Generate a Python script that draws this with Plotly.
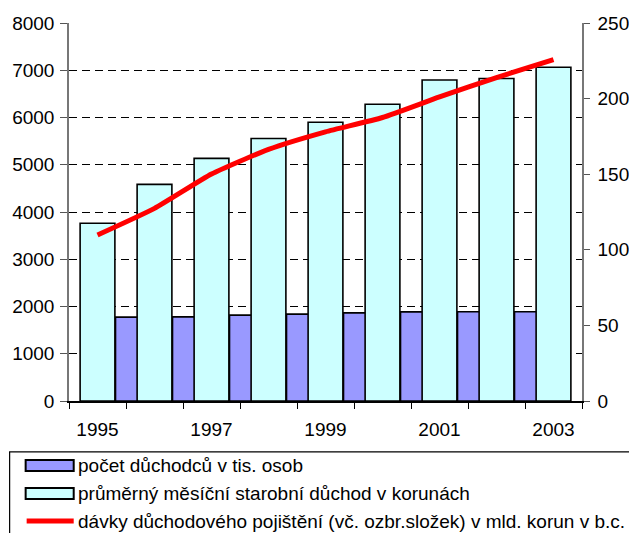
import plotly.graph_objects as go

years = ["1995", "1996", "1997", "1998", "1999", "2000", "2001", "2002", "2003"]
year_labels = ["1995", "", "1997", "", "1999", "", "2001", "", "2003"]
pocet_duchodcu = [None, 1775, 1780, 1817, 1838, 1866, 1887, 1890, 1888]
prumerny_duchod = [3761, 4585, 5134, 5557, 5901, 6281, 6795, 6824, 7063]
davky = [109.8, 127.4, 150.1, 166.4, 178.0, 187.5, 201.1, 213.9, 225.8]
names = [
    "počet důchodců v tis. osob",
    "průměrný měsíční starobní důchod v korunách",
    "dávky důchodového pojištění (vč. ozbr.složek) v mld. korun v b.c.",
]

W, H = 629, 533
L, R, T, B = 69.3, 581.7, 22.7, 401.3
FONT = "Liberation Sans, Arial, sans-serif"

def px(x):
    return (x - L) / (R - L)

def py(y):
    return (B - y) / (B - T)

fig = go.Figure()
fig.add_trace(go.Bar(
    x=years, y=pocet_duchodcu, name=names[0],
    marker=dict(color="#9999FF", line=dict(color="black", width=1.6)),
    offset=-0.684, width=0.684, showlegend=False,
))
fig.add_trace(go.Bar(
    x=years, y=prumerny_duchod, name=names[1],
    marker=dict(color="#CCFFFF", line=dict(color="black", width=1.6)),
    offset=-0.305, width=0.61, showlegend=False,
))
fig.add_trace(go.Scatter(
    x=years, y=davky, name=names[2], yaxis="y2", mode="lines",
    line=dict(color="#FF0000", width=5, shape="spline", smoothing=0.5),
    showlegend=False,
))

tickfont = dict(family=FONT, size=19, color="black")
fig.update_layout(
    width=W, height=H,
    margin=dict(l=L, r=W - R, t=T, b=H - B, autoexpand=False),
    paper_bgcolor="white", plot_bgcolor="white",
    barmode="overlay",
    showlegend=False,
    font=dict(family=FONT, color="black"),
    xaxis=dict(
        type="category", categoryorder="array", categoryarray=years,
        range=[-0.5, 8.5], tickson="boundaries",
        tickvals=years, ticktext=year_labels,
        ticks="outside", ticklen=6, tickcolor="black", tickwidth=1,
        showline=True, linecolor="black", linewidth=1.5,
        showgrid=False, tickfont=tickfont, ticklabelstandoff=10,
    ),
    yaxis=dict(
        range=[0, 8000], dtick=1000, tick0=0,
        ticks="outside", ticklen=7, tickcolor="#555", tickwidth=1,
        showline=True, linecolor="#777", linewidth=1.5,
        showgrid=True, gridcolor="black", griddash="8px,5px", gridwidth=1,
        zeroline=False, tickfont=tickfont, ticklabelstandoff=2,
    ),
    yaxis2=dict(
        overlaying="y", side="right", range=[0, 250], dtick=50, tick0=0,
        ticks="outside", ticklen=6, tickcolor="#555", tickwidth=1,
        showline=True, linecolor="#777", linewidth=1.5,
        showgrid=False, zeroline=False, tickfont=tickfont, ticklabelstandoff=4,
    ),
)

# legend drawn manually
shapes = [
    dict(type="rect", xref="paper", yref="paper",
         x0=px(10), x1=px(680), y0=py(452.3), y1=py(580),
         line=dict(color="black", width=1.2), fillcolor="rgba(0,0,0,0)"),
    dict(type="rect", xref="paper", yref="paper",
         x0=px(26), x1=px(74), y0=py(460.5), y1=py(471.5),
         line=dict(color="black", width=2), fillcolor="#9999FF"),
    dict(type="rect", xref="paper", yref="paper",
         x0=px(26), x1=px(74), y0=py(488.5), y1=py(499.5),
         line=dict(color="black", width=2), fillcolor="#CCFFFF"),
    dict(type="line", xref="paper", yref="paper",
         x0=px(27), x1=px(74), y0=py(521.5), y1=py(521.5),
         line=dict(color="#FF0000", width=5)),
]
row_y = [466, 494, 521.5]
annotations = [
    dict(text=n, xref="paper", yref="paper", x=px(76), y=py(yy),
         xanchor="left", yanchor="middle", showarrow=False,
         font=dict(family=FONT, size=19, color="black"))
    for n, yy in zip(names, row_y)
]
fig.update_layout(shapes=shapes, annotations=annotations)

fig.write_html(
    "out.html",
    config={"displayModeBar": False},
    post_script="document.body.style.margin='0';document.body.style.overflow='hidden';",
)
